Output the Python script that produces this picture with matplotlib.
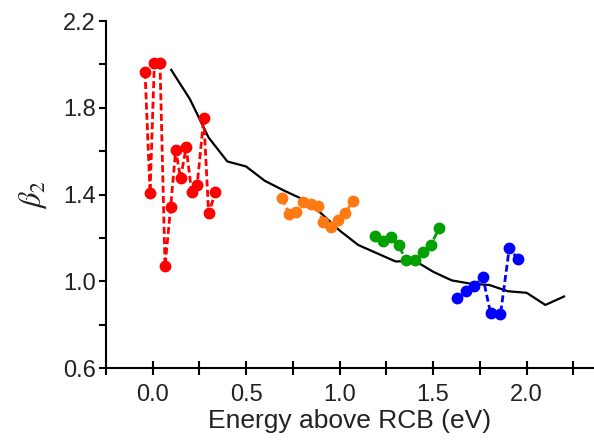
import matplotlib
matplotlib.use("Agg")
import matplotlib.pyplot as plt

# theory curve
theory_x = [0.1, 0.2, 0.3, 0.4, 0.5, 0.6, 0.7, 0.8, 0.9, 1.0, 1.1, 1.2,
            1.3, 1.4, 1.5, 1.6, 1.7, 1.8, 1.9, 2.0, 2.1, 2.2]
theory_y = [1.975, 1.84, 1.663, 1.553, 1.53, 1.464, 1.42, 1.38, 1.315, 1.235, 1.168, 1.13,
            1.092, 1.097, 1.045, 1.005, 0.99, 0.984, 0.955, 0.948, 0.892, 0.931]

# measured beta2, one set per colour
red_x = [-0.04, -0.013, 0.01, 0.04, 0.067, 0.097, 0.124, 0.15, 0.18, 0.209, 0.239, 0.274, 0.30, 0.336]
red_y = [1.966, 1.408, 2.008, 2.008, 1.07, 1.342, 1.607, 1.475, 1.62, 1.412, 1.446, 1.753, 1.314, 1.41]

orange_x = [0.694, 0.73, 0.765, 0.806, 0.845, 0.882, 0.912, 0.953, 0.992, 1.031, 1.071]
orange_y = [1.383, 1.311, 1.322, 1.368, 1.357, 1.349, 1.273, 1.253, 1.284, 1.314, 1.372]

green_x = [1.192, 1.234, 1.275, 1.316, 1.355, 1.403, 1.447, 1.488, 1.532]
green_y = [1.208, 1.188, 1.204, 1.166, 1.097, 1.10, 1.138, 1.169, 1.245]

blue_x = [1.629, 1.677, 1.718, 1.766, 1.807, 1.86, 1.907, 1.953]
blue_y = [0.923, 0.954, 0.977, 1.02, 0.854, 0.848, 1.153, 1.104]

plt.rcParams['font.family'] = ['Liberation Sans', 'DejaVu Sans']
plt.rcParams['mathtext.fontset'] = 'stix'

fig = plt.figure(figsize=(5.94, 4.47), dpi=100)
ax = fig.add_axes([0.178, 0.176, 0.822, 0.777])

ax.plot(theory_x, theory_y, color='black', lw=1.6, zorder=2)

sets = [(red_x, red_y, '#ff0000'), (orange_x, orange_y, '#ff7a12'),
        (green_x, green_y, '#00a000'), (blue_x, blue_y, '#0000ff')]
for xs, ys, c in sets:
    ax.plot(xs, ys, color=c, ls=(0, (2.5, 1.2)), lw=2.0, marker='o', ms=7.5,
            mec=c, mfc=c, zorder=3)

ax.set_xlim(-0.25, 2.36)
ax.set_ylim(0.6, 2.2)
ax.set_xticks([0.0, 0.5, 1.0, 1.5, 2.0])
ax.set_xticklabels(['0.0', '0.5', '1.0', '1.5', '2.0'])
ax.set_xticks([-0.25, 0.25, 0.75, 1.25, 1.75, 2.25], minor=True)
ax.set_yticks([0.6, 1.0, 1.4, 1.8, 2.2])
ax.set_yticklabels(['0.6', '1.0', '1.4', '1.8', '2.2'])
ax.set_yticks([0.8, 1.2, 1.6, 2.0], minor=True)

ax.spines['top'].set_visible(False)
ax.spines['right'].set_visible(False)
for s in ['left', 'bottom']:
    ax.spines[s].set_linewidth(1.5)

ax.tick_params(axis='x', which='both', direction='inout', length=10.5, width=1.5,
               labelsize=17, pad=6, labelcolor='#222222')
ax.tick_params(axis='y', which='both', direction='out', length=5, width=1.5,
               labelsize=17, pad=2, labelcolor='#222222')

ax.set_xlabel('Energy above RCB (eV)', fontsize=19, labelpad=2, color='#222222')
ax.set_ylabel(r'$\beta_2$', fontsize=22, labelpad=10, color='#222222')

fig.savefig('out.png', dpi=100)
